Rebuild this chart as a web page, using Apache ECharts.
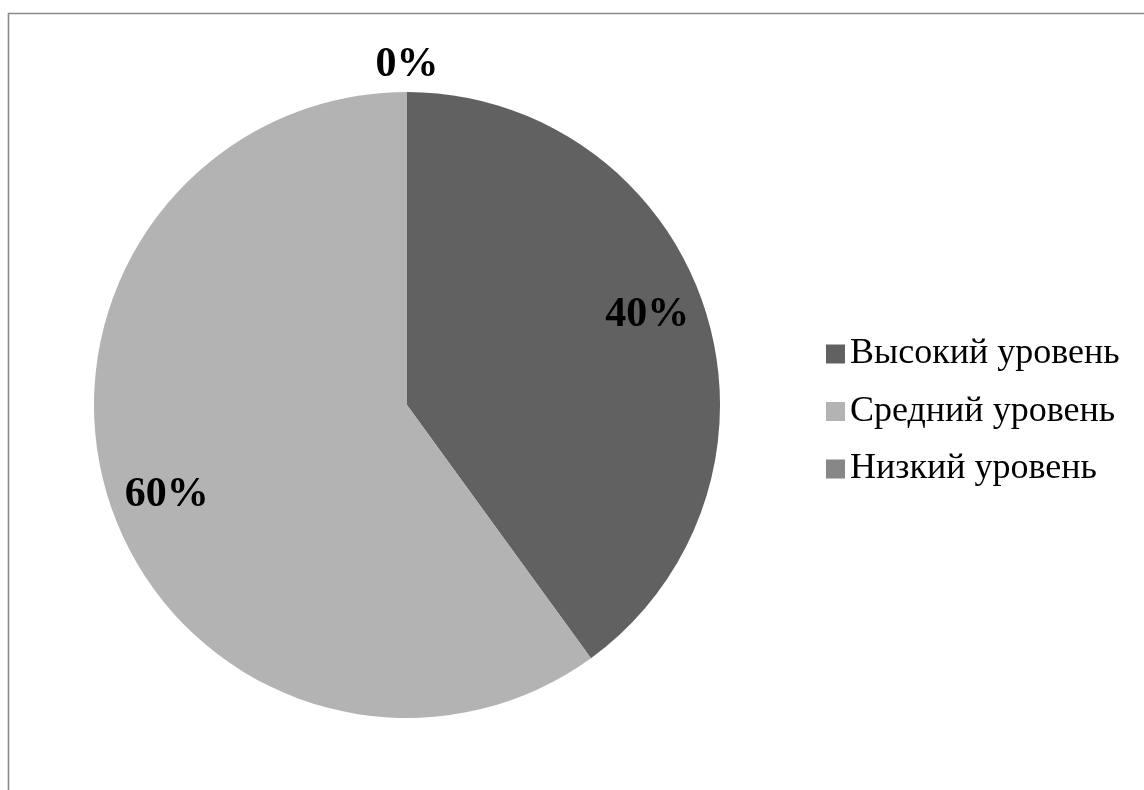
<!DOCTYPE html>
<html>
<head>
<meta charset="utf-8">
<script src="https://cdn.jsdelivr.net/npm/echarts@6/dist/echarts.min.js"></script>
<style>
html,body{margin:0;padding:0;background:#fff;}
#chart{width:1144px;height:790px;}
</style>
</head>
<body>
<div id="chart"></div>
<script>
const categories = ['Высокий уровень', 'Средний уровень', 'Низкий уровень'];
const values = [40, 60, 0];
const colors = ['#616161', '#b3b3b3', '#878787'];

const R = 313;
const center = [407, 405];
const font = '"Liberation Serif", "Times New Roman", serif';

const pieData = categories.map((c, i) => ({ name: c, value: values[i], itemStyle: { color: colors[i] } }));

function labelData(showFn) {
  return categories.map((c, i) => ({
    name: c,
    value: values[i],
    label: { show: showFn(values[i]) }
  }));
}

const labelStyle = {
  position: 'inside',
  formatter: '{d}%',
  fontFamily: font,
  fontWeight: 'bold',
  fontSize: 42,
  color: '#000'
};

const chart = echarts.init(document.getElementById('chart'));
chart.setOption({
  animation: false,
  backgroundColor: '#fff',
  graphic: [{
    type: 'rect',
    shape: { x: 8.5, y: 13.5, width: 1300, height: 1000 },
    style: { fill: 'none', stroke: '#8a8a8a', lineWidth: 1.6 },
    silent: true
  }],
  legend: {
    orient: 'vertical',
    left: 821,
    top: 331,
    icon: 'rect',
    itemWidth: 19,
    itemHeight: 19,
    itemGap: 21.5,
    selectedMode: false,
    data: categories,
    textStyle: { fontFamily: font, fontSize: 36, lineHeight: 36, color: '#000' }
  },
  series: [
    {
      type: 'pie',
      center: center,
      radius: R,
      startAngle: 90,
      clockwise: true,
      data: pieData,
      label: { show: false },
      labelLine: { show: false },
      itemStyle: { borderWidth: 0 },
      emphasis: { disabled: true }
    },
    {
      type: 'pie',
      center: center,
      radius: [0.62 * R, R],
      startAngle: 92.5,
      clockwise: true,
      silent: true,
      data: labelData(v => v > 0),
      itemStyle: { color: 'rgba(0,0,0,0)', borderWidth: 0 },
      label: labelStyle,
      labelLine: { show: false },
      emphasis: { disabled: true }
    },
    {
      type: 'pie',
      center: center,
      radius: [R, 1.153 * R],
      startAngle: 90,
      clockwise: true,
      silent: true,
      data: labelData(v => v === 0),
      itemStyle: { color: 'rgba(0,0,0,0)', borderWidth: 0 },
      label: labelStyle,
      labelLine: { show: false },
      emphasis: { disabled: true }
    }
  ]
});
</script>
</body>
</html>
